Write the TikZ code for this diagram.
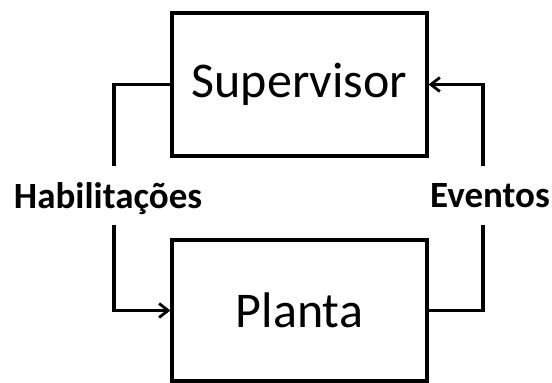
\documentclass[tikz,border=0pt]{standalone}
\usepackage{fontspec}
\setmainfont{Carlito}
\usetikzlibrary{arrows.meta}
\begin{document}
\begin{tikzpicture}[x=1pt,y=-1pt,
  blockbox/.style={draw=black,line width=3.2pt,inner sep=0pt,fill=white,font=\fontsize{50}{60}\selectfont},
  conn/.style={draw=black,line width=3.2pt},
  tip/.style={-{Straight Barb[length=9pt,width=14pt,line width=2.8pt]}},
  lbl/.style={font=\fontsize{37}{43}\selectfont\bfseries,inner sep=0pt}]
\useasboundingbox (0,0) rectangle (552,383);
\node[blockbox,minimum width=255pt,minimum height=143pt] (sup) at (299.5,84.5) {Supervisor};
\node[blockbox,minimum width=255pt,minimum height=141pt] (pla) at (299.5,310.5) {Planta};
\node[lbl,anchor=base] (hab) at (108,208) {Habilitações};
\node[lbl,anchor=base] (evt) at (490,207) {Eventos};
\coordinate (h1) at (114,166);
\coordinate (h2) at (114,225);
\coordinate (e1) at (483,166);
\coordinate (e2) at (483,225);
\draw[conn] (sup.west) -| (h1);
\draw[conn,tip] (h2) |- (pla.west);
\draw[conn] (pla.east) -| (e2);
\draw[conn,tip] (e1) |- (sup.east);
\end{tikzpicture}
\end{document}
